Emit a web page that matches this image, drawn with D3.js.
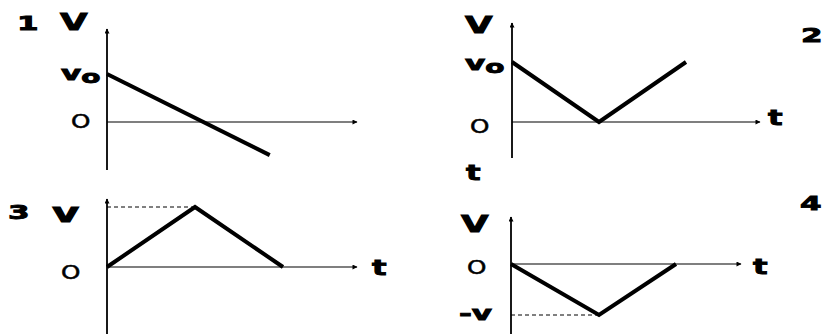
<!DOCTYPE html>
<html>
<head>
<meta charset="utf-8">
<script src="https://cdn.jsdelivr.net/npm/d3@7"></script>
<style>
  body { margin: 0; background: #fff; }
  text { font-family: "DejaVu Sans", Verdana, sans-serif; font-weight: bold; fill: #000; stroke: #000; stroke-width: 0.9; }
  .zero { font-weight: normal; stroke-width: 0.5; }
</style>
</head>
<body>
<svg id="chart" width="827" height="334"></svg>
<script>
  // velocity-time data of the four graphs (t in units of t1, v in units of v0)
  var panelNames = ["1", "2", "3", "4"];
  var times1 = [0, 1.75],     speeds1 = [1, -0.69];
  var times2 = [0, 1, 2],     speeds2 = [1, 0, 1];
  var times3 = [0, 1, 2],     speeds3 = [0, 1, 0];
  var times4 = [0, 1, 1.875], speeds4 = [0, -1, 0];
  var yTitles = ["V", "V", "v", "V"];
  var xTitles = ["", "t", "t", "t"];
  var levelLabels = ["v", "v", "", "-v"];
  var levelSubs = ["o", "o", "", ""];
  var zeroLabel = "O";

  // where each little graph sits on the page
  var layout = [
    {ox: 107, oy: 122, tPx: 93, vPx: 48, xEnd: 357, yTop: 29,  yBot: 170,
     name: [17, 30], title: [60, 30], level: [61, 80], zero: [71, 128], xt: null, dash: false},
    {ox: 512, oy: 122, tPx: 87, vPx: 60, xEnd: 760, yTop: 23,  yBot: 158,
     name: [801, 42], title: [465, 33], level: [465, 70], zero: [470, 133], xt: [768, 125], dash: false},
    {ox: 107, oy: 267, tPx: 88, vPx: 60, xEnd: 357, yTop: 199, yBot: 334,
     name: [8, 219], title: [52, 222], level: null, zero: [61, 279], xt: [372, 275], dash: true},
    {ox: 511, oy: 264, tPx: 88, vPx: 51, xEnd: 741, yTop: 217, yBot: 334,
     name: [800, 210], title: [461, 232], level: [459, 320], zero: [467, 274], xt: [753, 274], dash: true}
  ];

  var allTimes = [times1, times2, times3, times4];
  var allSpeeds = [speeds1, speeds2, speeds3, speeds4];

  var svg = d3.select("#chart");

  // arrow head for the axes
  svg.append("defs").append("marker")
      .attr("id", "arrow")
      .attr("viewBox", "0 0 10 10")
      .attr("refX", 9).attr("refY", 5)
      .attr("markerWidth", 7).attr("markerHeight", 5)
      .attr("markerUnits", "userSpaceOnUse")
      .attr("orient", "auto")
    .append("path")
      .attr("d", "M0,0L10,5L0,10z")
      .attr("fill", "#000");

  function label(g, txt, pos, size, stretch, cls) {
    return g.append("text")
      .attr("class", cls || null)
      .attr("transform", "translate(" + pos[0] + "," + pos[1] + ") scale(" + stretch + ",1)")
      .style("font-size", size + "px")
      .text(txt);
  }

  layout.forEach(function(p, i) {
    var g = svg.append("g");
    var x = d3.scaleLinear().domain([0, 1]).range([p.ox, p.ox + p.tPx]);
    var y = d3.scaleLinear().domain([0, 1]).range([p.oy, p.oy - p.vPx]);
    var pts = allTimes[i].map(function(t, k) { return [t, allSpeeds[i][k]]; });

    // axes
    g.append("line")
      .attr("x1", x(0)).attr("x2", x(0))
      .attr("y1", p.yBot).attr("y2", p.yTop)
      .attr("stroke", "#000").attr("stroke-width", 1.8)
      .attr("marker-end", "url(#arrow)");
    g.append("line")
      .attr("x1", x(0)).attr("x2", p.xEnd)
      .attr("y1", y(0)).attr("y2", y(0))
      .attr("stroke", "#000").attr("stroke-width", 1.2)
      .attr("marker-end", "url(#arrow)");

    // dashed guide to the peak / trough
    if (p.dash) {
      var ext = pts.reduce(function(a, b) { return Math.abs(b[1]) > Math.abs(a[1]) ? b : a; });
      g.append("line")
        .attr("x1", x(0)).attr("x2", x(ext[0]))
        .attr("y1", y(ext[1])).attr("y2", y(ext[1]))
        .attr("stroke", "#000").attr("stroke-width", 1)
        .attr("stroke-dasharray", "4,3");
    }

    // the v-t line
    g.append("path")
      .datum(pts)
      .attr("d", d3.line().x(function(d) { return x(d[0]); }).y(function(d) { return y(d[1]); }))
      .attr("fill", "none")
      .attr("stroke", "#000")
      .attr("stroke-width", 4)
      .attr("stroke-linejoin", "miter");

    // texts
    label(g, panelNames[i], p.name, 20, 1.55);
    label(g, yTitles[i], p.title, i == 2 ? 27 : 23, 1.55);
    label(g, zeroLabel, p.zero, 19, 1.3, "zero");
    if (p.xt) label(g, xTitles[i], p.xt, 21, 1.45);
    if (p.level) {
      var lv = label(g, levelLabels[i], p.level, 20, 1.55);
      if (levelSubs[i]) {
        lv.append("tspan").attr("dy", 3).style("font-size", "18px").text(levelSubs[i]);
      }
    }
  });

  // the lone "t" between graphs 2 and 4
  label(svg, "t", [466, 180], 21, 1.45);
</script>
</body>
</html>
